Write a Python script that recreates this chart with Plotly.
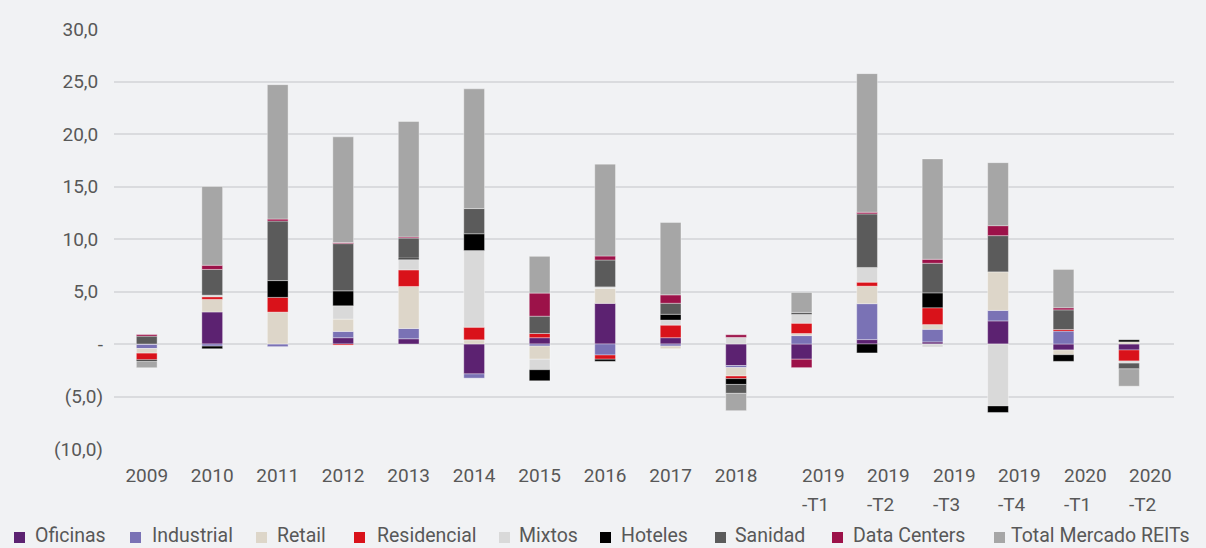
import plotly.graph_objects as go

# ---------------- data ----------------
categories = ["2009", "2010", "2011", "2012", "2013", "2014", "2015", "2016", "2017", "2018",
              "2019-T1", "2019-T2", "2019-T3", "2019-T4", "2020-T1", "2020-T2"]
year_labels = ["2009", "2010", "2011", "2012", "2013", "2014", "2015", "2016", "2017", "2018"]
quarter_cats = ["2019-T1", "2019-T2", "2019-T3", "2019-T4", "2020-T1", "2020-T2"]
quarter_line1 = ["2019", "2019", "2019", "2019", "2020", "2020"]
quarter_line2 = ["-T1", "-T2", "-T3", "-T4", "-T1", "-T2"]

oficinas = [-0.05, 3.05, None, 0.6, 0.5, -2.85, 0.6, 3.87, 0.6, -2.05, -1.45, 0.42, 0.2, 2.2, -0.57, -0.57]
industrial = [-0.38, -0.2, -0.25, 0.6, 0.98, -0.4, -0.2, -1.05, -0.2, -0.2, 0.8, 3.42, 1.2, 1.0, 1.23, None]
retail = [-0.44, 1.2, 3.04, 1.17, 4.0, 0.4, -1.25, 1.42, -0.25, -0.8, 0.2, 1.67, 0.45, 3.67, -0.45, 0.2]
residencial = [-0.63, 0.25, 1.4, -0.1, 1.58, 1.2, 0.4, -0.4, 1.2, -0.25, 0.98, 0.38, 1.6, None, 0.15, -1.05]
mixtos = [None, 0.15, None, 1.27, 0.98, 7.3, -1.0, 0.15, 0.48, 0.63, 0.83, 1.4, -0.3, -5.9, None, -0.2]
hoteles = [-0.13, -0.25, 1.6, 1.42, 0.15, 1.6, -1.05, -0.2, 0.55, -0.55, None, -0.85, 1.42, -0.62, -0.63, 0.2]
sanidad = [0.75, 2.45, 5.67, 4.5, 1.9, 2.4, 1.65, 2.56, 1.05, -0.85, 0.2, 5.1, 2.82, 3.45, 1.87, -0.55]
data_centers = [0.15, 0.4, 0.19, 0.1, 0.1, None, 2.2, 0.38, 0.8, 0.25, -0.8, 0.16, 0.38, 0.95, 0.2, None]
total_reits = [-0.63, 7.5, 12.8, 10.07, 11.0, 11.4, 3.5, 8.75, 6.9, -1.65, 1.9, 13.2, 9.56, 6.0, 3.65, -1.65]

series_names = ["Oficinas", "Industrial", "Retail", "Residencial", "Mixtos", "Hoteles",
                "Sanidad", "Data Centers", "Total Mercado REITs"]
series_values = [oficinas, industrial, retail, residencial, mixtos, hoteles,
                 sanidad, data_centers, total_reits]
series_colors = ["#5c2271", "#7a72b5", "#ddd6c9", "#d9121a", "#d9d9d9", "#000000",
                 "#5b5b5b", "#9c1249", "#a6a6a6"]

y_tickvals = [-10, -5, 0, 5, 10, 15, 20, 25, 30]
y_ticktext = ["(10,0)", "(5,0)", "-", "5,0\u00a0", "10,0\u00a0", "15,0\u00a0", "20,0\u00a0",
              "25,0\u00a0", "30,0\u00a0"]

# ---------------- layout constants ----------------
W, H = 1206, 548
L, R, T, B = 114, 32, 29, 99
PW, PH = W - L - R, H - T - B
FONT = "Roboto"
TXT = "#585858"
BG = "#f1f2f4"


def px_x(px):
    return (px - L) / PW


def px_y(py):
    return (H - B - py) / PH


fig = go.Figure()
for name, vals, col in zip(series_names, series_values, series_colors):
    fig.add_trace(go.Bar(
        x=categories, y=vals, name=name,
        marker=dict(color=col, line=dict(color="rgba(255,255,255,0.35)", width=1)),
        showlegend=False,
    ))

annotations = []
shapes = []

# quarterly x labels (left aligned at the tick, two lines)
for cat, l1, l2 in zip(quarter_cats, quarter_line1, quarter_line2):
    annotations.append(dict(x=cat, xref="x", y=px_y(475), yref="paper", text=l1,
                            showarrow=False, xanchor="left", yanchor="middle",
                            xshift=-2, font=dict(family=FONT, size=19, color=TXT)))
    annotations.append(dict(x=cat, xref="x", y=px_y(504), yref="paper", text=l2,
                            showarrow=False, xanchor="left", yanchor="middle",
                            xshift=-2, font=dict(family=FONT, size=19, color=TXT)))

# custom legend
legend_square_x = [14, 130, 256, 354, 499, 600, 715, 832, 994]
legend_text_x = [35, 152, 277, 377, 519, 621, 735, 853, 1011]
for name, col, sx, tx in zip(series_names, series_colors, legend_square_x, legend_text_x):
    shapes.append(dict(type="rect", xref="paper", yref="paper",
                       x0=px_x(sx), x1=px_x(sx + 11), y0=px_y(543), y1=px_y(532),
                       fillcolor=col, line=dict(width=0)))
    annotations.append(dict(x=px_x(tx - 2), xref="paper", y=px_y(535), yref="paper",
                            text=name, showarrow=False, xanchor="left", yanchor="middle",
                            font=dict(family=FONT, size=19.5, color=TXT)))

fig.update_layout(
    width=W, height=H,
    margin=dict(l=L, r=R, t=T, b=B),
    paper_bgcolor=BG, plot_bgcolor=BG,
    barmode="relative", bargap=0.683,
    font=dict(family=FONT, size=19, color=TXT),
    annotations=annotations, shapes=shapes,
    xaxis=dict(type="category", categoryorder="array", categoryarray=categories,
               tickvals=year_labels, ticktext=year_labels,
               showgrid=False, zeroline=False, showline=False, ticks="",
               ticklabelstandoff=13,
               tickfont=dict(family=FONT, size=19, color=TXT)),
    yaxis=dict(range=[-10, 30], tickvals=y_tickvals, ticktext=y_ticktext,
               showgrid=True, gridcolor="#dadbde", gridwidth=2,
               zeroline=False, showline=False, ticks="",
               ticklabelstandoff=10,
               tickfont=dict(family=FONT, size=19, color=TXT)),
)

fig.write_html("out.html",
               config={"displayModeBar": False},
               post_script="document.body.style.margin='0';document.body.style.padding='0';"
                           "document.documentElement.style.background='#f1f2f4';")
